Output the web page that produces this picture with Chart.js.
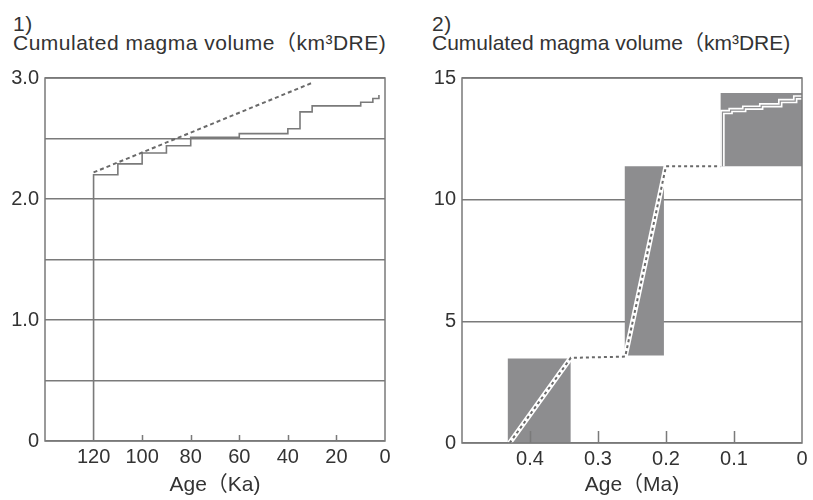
<!DOCTYPE html>
<html>
<head>
<meta charset="utf-8">
<script src="https://cdn.jsdelivr.net/npm/chart.js@4.4.0/dist/chart.umd.min.js"></script>
<style>
	body { margin: 0; background: #fff; width: 813px; height: 500px; position: relative; overflow: hidden;
		font-family: "Liberation Sans", "Noto Sans CJK JP", sans-serif; color: #333; }
	.label { position: absolute; font-size: 21px; line-height: 24px; letter-spacing: 0.5px; white-space: nowrap; }
	.panel { position: absolute; top: 60px; height: 440px; }
</style>
</head>
<body>
<div class="label" style="left:13px; top:12px">1)</div>
<div class="label" style="left:13px; top:31px">Cumulated magma volume（km³DRE)</div>
<div class="label" style="left:432px; top:12px">2)</div>
<div class="label" style="left:432px; top:31px; letter-spacing:0">Cumulated magma volume（km³DRE)</div>
<div class="panel" style="left:0; width:400px"><canvas id="chart1"></canvas></div>
<div class="panel" style="left:410px; width:403px"><canvas id="chart2"></canvas></div>
<script>
// Panel 1: age in Ka, cumulated volume in km3 DRE
const stepAgeKa = [120, 120, 110, 100, 90, 80, 60, 40, 35, 30, 10, 5, 2.5];
const stepVolKa = [0, 2.2, 2.29, 2.38, 2.44, 2.51, 2.54, 2.58, 2.72, 2.77, 2.80, 2.83, 2.86];
const trendAgeKa = [120, 30];
const trendVolKa = [2.22, 2.96];
const xTicksKa = [140, 120, 100, 80, 60, 40, 20, 0];
const tickMarksKa = [100, 80, 60, 40, 20];
const yTicksKa = [0, 0.5, 1, 1.5, 2, 2.5, 3];

// Panel 2: age in Ma, cumulated volume in km3 DRE
const boxAgeFrom = [0.433, 0.261, 0.12];
const boxAgeTo = [0.34, 0.203, 0];
const boxVolFrom = [0, 3.6, 11.37];
const boxVolTo = [3.47, 11.37, 14.38];
const trendAgeMa = [0.43, 0.34, 0.26, 0.2, 0.12];
const trendVolMa = [0, 3.5, 3.55, 11.37, 11.37];
const stepAgeMa = [0.117, 0.117, 0.105, 0.085, 0.06, 0.032, 0.01, 0];
const stepVolMa = [11.37, 13.6, 13.68, 13.78, 13.88, 14.05, 14.2, 14.2];
const xTicksMa = [0.5, 0.4, 0.3, 0.2, 0.1, 0];
const tickMarksMa = [0.4, 0.3, 0.2, 0.1];
const yTicksMa = [0, 5, 10, 15];

(() => {
	'use strict'

	const lineColor = '#7a7a7a';
	const boxColor = '#8d8d8f';
	const textColor = '#333333';

	Chart.defaults.font.family = '"Liberation Sans", "Noto Sans CJK JP", sans-serif';
	Chart.defaults.font.size = 20;
	Chart.defaults.color = textColor;

	const toPoints = (xs, ys) => xs.map((x, i) => ({ x: x, y: ys[i] }));

	// Frame round the plot area and short ticks pointing up from the x axis
	const framePlugin = {
		id: 'frame',
		afterDatasetsDraw(chart, args, opts) {
			const { ctx, chartArea } = chart;
			const xScale = chart.scales.x;
			ctx.save();
			ctx.strokeStyle = lineColor;
			ctx.lineWidth = 1.5;
			ctx.strokeRect(chartArea.left, chartArea.top, chartArea.width, chartArea.height);
			ctx.beginPath();
			opts.marks.forEach(v => {
				const px = Math.round(xScale.getPixelForValue(v)) + 0.5;
				ctx.moveTo(px, chartArea.bottom);
				ctx.lineTo(px, chartArea.bottom - opts.length);
			});
			ctx.stroke();
			ctx.restore();
		}
	};

	// Shared axis setup, both panels run from old (left) to young (right)
	function buildScales(cfg) {
		return {
			x: {
				type: 'linear',
				reverse: true,
				min: cfg.xTicks[cfg.xTicks.length - 1],
				max: cfg.xTicks[0],
				afterBuildTicks: s => { s.ticks = cfg.xTicks.map(v => ({ value: v })); },
				afterFit: s => { s.height = cfg.xHeight; },
				grid: { display: false, drawTicks: false },
				border: { display: false },
				ticks: {
					padding: 4,
					maxRotation: 0,
					autoSkip: false,
					callback: v => v === cfg.xTicks[0] ? '' : String(v)
				},
				title: {
					display: true,
					text: cfg.xTitle,
					font: { size: 21 },
					padding: { top: 0, bottom: 2 }
				}
			},
			y: {
				type: 'linear',
				min: cfg.yTicks[0],
				max: cfg.yTicks[cfg.yTicks.length - 1],
				afterBuildTicks: s => { s.ticks = cfg.yTicks.map(v => ({ value: v })); },
				afterFit: s => { s.width = cfg.yWidth; },
				grid: { color: lineColor, lineWidth: 1.5, drawTicks: false },
				border: { display: false },
				ticks: { padding: 6, callback: cfg.yFormat }
			}
		};
	}

	function baseOptions(scales, padding, marks, markLength) {
		return {
			responsive: true,
			maintainAspectRatio: false,
			animation: false,
			layout: { padding: padding },
			elements: { point: { radius: 0 }, line: { tension: 0 } },
			plugins: {
				legend: { display: false },
				tooltip: { enabled: false },
				frame: { marks: marks, length: markLength }
			},
			scales: scales
		};
	}

	/******************** Chart 1 Start ********************/
	const chart1 = document.getElementById('chart1');
	if (chart1) {
		const scales1 = buildScales({
			xTicks: xTicksKa,
			xTitle: 'Age（Ka)',
			xHeight: 59,
			yTicks: yTicksKa,
			yWidth: 45,
			yFormat: v => Number.isInteger(v) ? (v === 0 ? '0' : v.toFixed(1)) : ''
		});

		new Chart(chart1, {
			type: 'scatter',
			data: {
				datasets: [
					{
						data: toPoints(trendAgeKa, trendVolKa),
						showLine: true,
						borderColor: '#6a6a6a',
						borderWidth: 2,
						borderDash: [4, 3]
					},
					{
						data: toPoints(stepAgeKa, stepVolKa),
						showLine: true,
						stepped: true,
						borderColor: lineColor,
						borderWidth: 1.6
					}
				]
			},
			options: baseOptions(scales1, { top: 13, right: 15 }, tickMarksKa, 6),
			plugins: [framePlugin]
		});
	}
	/********************* Chart 1 End *********************/


	/******************** Chart 2 Start ********************/
	const chart2 = document.getElementById('chart2');
	if (chart2) {
		const scales2 = buildScales({
			xTicks: xTicksMa,
			xTitle: 'Age（Ma)',
			xHeight: 57,
			yTicks: yTicksMa,
			yWidth: 52,
			yFormat: v => String(v)
		});

		const boxes = boxAgeFrom.map((from, i) => ({
			data: toPoints([from, boxAgeTo[i]], [boxVolTo[i], boxVolTo[i]]),
			showLine: true,
			borderWidth: 0,
			backgroundColor: boxColor,
			fill: { value: boxVolFrom[i] }
		}));

		new Chart(chart2, {
			type: 'scatter',
			data: {
				datasets: [
					{
						data: toPoints(stepAgeMa, stepVolMa),
						showLine: true,
						stepped: true,
						borderColor: boxColor,
						borderWidth: 1.2
					},
					{
						data: toPoints(stepAgeMa, stepVolMa),
						showLine: true,
						stepped: true,
						borderColor: '#ffffff',
						borderWidth: 4.5
					},
					{
						data: toPoints(trendAgeMa, trendVolMa),
						showLine: true,
						borderColor: '#6a6a6a',
						borderWidth: 2,
						borderDash: [3, 3]
					},
					{
						data: toPoints(trendAgeMa, trendVolMa),
						showLine: true,
						borderColor: '#ffffff',
						borderWidth: 5
					}
				].concat(boxes)
			},
			options: baseOptions(scales2, { top: 12, right: 11 }, tickMarksMa, 12),
			plugins: [framePlugin]
		});
	}
	/********************* Chart 2 End *********************/
})()
</script>
</body>
</html>
